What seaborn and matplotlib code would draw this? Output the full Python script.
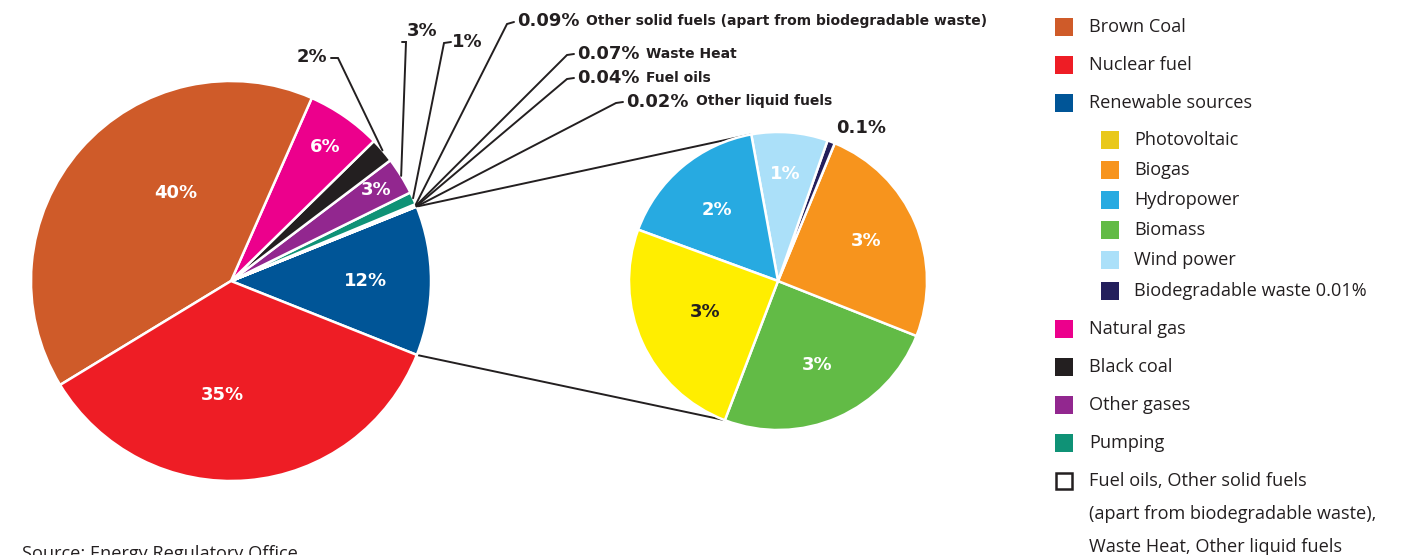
import matplotlib
matplotlib.use("Agg")
import matplotlib.pyplot as plt
from matplotlib.patches import Rectangle
import numpy as np
import seaborn as sns

# ---- data -------------------------------------------------------------
main_labels = ["Renewable sources", "Other liquid fuels", "Fuel oils", "Waste Heat",
               "Other solid fuels (apart from biodegradable waste)", "Pumping",
               "Other gases", "Black coal", "Natural gas", "Brown Coal", "Nuclear fuel"]
main_values = [12, 0.02, 0.04, 0.07, 0.09, 1, 3, 2, 6, 40, 35]

renew_labels = ["Biomass", "Biogas", "Biodegradable waste", "Wind power",
                "Hydropower", "Photovoltaic"]
renew_values = [3, 3, 0.1, 1, 2, 3]

legend_main_top = ["Brown Coal", "Nuclear fuel", "Renewable sources"]
legend_renew = ["Photovoltaic", "Biogas", "Hydropower", "Biomass", "Wind power",
                "Biodegradable waste 0.01%"]
legend_main_bottom = ["Natural gas", "Black coal", "Other gases", "Pumping"]
legend_other = ["Fuel oils, Other solid fuels", "(apart from biodegradable waste),",
                "Waste Heat, Other liquid fuels"]
source_note = "Source: Energy Regulatory Office"

# ---- styling ----------------------------------------------------------
sns.set_theme(style="white")
plt.rcParams["font.family"] = ["Open Sans", "DejaVu Sans"]
BOLD_FONT = ["DejaVu Sans"]

DARK = "#231F20"
colors = {
    "Brown Coal": "#CF5B29",
    "Nuclear fuel": "#EE1D25",
    "Renewable sources": "#005597",
    "Natural gas": "#EC008C",
    "Black coal": "#231F20",
    "Other gases": "#92278F",
    "Pumping": "#0F9276",
    "Other liquid fuels": "white",
    "Fuel oils": "white",
    "Waste Heat": "white",
    "Other solid fuels (apart from biodegradable waste)": "white",
    "Photovoltaic": "#FFEE00",
    "Biogas": "#F7941D",
    "Hydropower": "#27AAE1",
    "Biomass": "#62BB46",
    "Wind power": "#ABE0F9",
    "Biodegradable waste": "#231F5C",
}
legend_colors = dict(colors)
legend_colors["Photovoltaic"] = "#E9C81A"
legend_colors["Biodegradable waste 0.01%"] = "#231F5C"

W, H = 1417, 555
fig = plt.figure(figsize=(W / 100, H / 100), dpi=100)
ax = fig.add_axes([0, 0, 1, 1])


def Y(y):
    """Convert a top-down pixel row to the axes' bottom-up coordinate."""
    return H - y


main_center, main_r = (231, Y(281)), 200
sub_center, sub_r = (778, Y(281)), 149

wedges_main, _ = ax.pie(main_values, colors=[colors[l] for l in main_labels],
                        startangle=-21.7, counterclock=True, center=main_center,
                        radius=main_r, wedgeprops=dict(edgecolor="white", linewidth=1.8))
wedges_sub, _ = ax.pie(renew_values, colors=[colors[l] for l in renew_labels],
                       startangle=-110.9, counterclock=True, center=sub_center,
                       radius=sub_r, wedgeprops=dict(edgecolor="white", linewidth=1.8))
ax.set_xlim(0, W)
ax.set_ylim(0, H)
ax.set_aspect("equal")
ax.axis("off")

main_w = dict(zip(main_labels, wedges_main))
main_v = dict(zip(main_labels, main_values))
sub_w = dict(zip(renew_labels, wedges_sub))
sub_v = dict(zip(renew_labels, renew_values))


def edge_point(center, r, theta):
    t = np.deg2rad(theta)
    return center[0] + r * np.cos(t), center[1] + r * np.sin(t)


def pct(v):
    return f"{v:g}%"


def bold(x, y, s, color=DARK, size=13, **kw):
    return ax.text(x, y, s, color=color, fontsize=size, fontweight="bold",
                   family=BOLD_FONT, **kw)


# ---- connector lines between the renewable slice and its breakdown ----
ren = main_w["Renewable sources"]
p_top = edge_point(main_center, main_r, ren.theta2)
p_bot = edge_point(main_center, main_r, ren.theta1)
q_top = edge_point(sub_center, sub_r, sub_w["Hydropower"].theta1)
q_bot = edge_point(sub_center, sub_r, sub_w["Biomass"].theta1)
ax.plot([p_top[0], q_top[0]], [p_top[1], q_top[1]], color=DARK, lw=1.4, zorder=0)
ax.plot([p_bot[0], q_bot[0]], [p_bot[1], q_bot[1]], color=DARK, lw=1.4, zorder=0)

# ---- labels inside slices ----------------------------------------------
inner_main = {
    "Brown Coal": (176, 193),
    "Nuclear fuel": (222, 395),
    "Renewable sources": (366, 281),
    "Natural gas": (325, 147),
    "Other gases": (376, 190),
}
for name, (x, y) in inner_main.items():
    bold(x, Y(y), pct(main_v[name]), color="white", ha="center", va="center")

inner_sub = {
    "Hydropower": ((717, 210), "white"),
    "Wind power": ((785, 174), "white"),
    "Biogas": ((866, 241), "white"),
    "Biomass": ((817, 365), "white"),
    "Photovoltaic": ((705, 312), DARK),
}
for name, ((x, y), c) in inner_sub.items():
    bold(x, Y(y), pct(sub_v[name]), color=c, ha="center", va="center")

bold(861, Y(128), pct(sub_v["Biodegradable waste"]), ha="center", va="center")

# ---- outside labels with leader lines --------------------------------
# name: (elbow, tick end, text anchor, ha, show description)
leaders = {
    "Black coal": ((338, 58), (331, 58), (327, 57), "right", False),
    "Other gases": ((406, 42), (402, 42), (407, 31), "left", False),
    "Pumping": ((444, 43), (451, 42), (452, 42), "left", False),
    "Other solid fuels (apart from biodegradable waste)": ((507, 24), (514, 22), (517, 21), "left", True),
    "Waste Heat": ((567, 55), (574, 54), (577, 54), "left", True),
    "Fuel oils": ((567, 79), (574, 78), (577, 78), "left", True),
    "Other liquid fuels": ((616, 103), (623, 102), (626, 102), "left", True),
}
fig.canvas.draw()
renderer = fig.canvas.get_renderer()
for name, (elbow, tick, txt, ha, desc) in leaders.items():
    w = main_w[name]
    anchor = edge_point(main_center, main_r, (w.theta1 + w.theta2) / 2)
    ax.plot([anchor[0], elbow[0], tick[0]], [anchor[1], Y(elbow[1]), Y(tick[1])],
            color=DARK, lw=1.4, solid_joinstyle="miter", zorder=3)
    t = bold(txt[0], Y(txt[1]), pct(main_v[name]), ha=ha, va="center")
    if desc:
        bb = t.get_window_extent(renderer)
        x_after = ax.transData.inverted().transform((bb.x1, bb.y0))[0]
        bold(x_after + 7, Y(txt[1]) + 0.5, name, size=10, ha="left", va="center")

# ---- legend -------------------------------------------------------------
rows = []
rows += [(n, y, 0) for n, y in zip(legend_main_top, [27, 65, 103])]
rows += [(n, y, 1) for n, y in zip(legend_renew, [140, 170, 200, 230, 260, 291])]
rows += [(n, y, 0) for n, y in zip(legend_main_bottom, [329, 367, 405, 443])]
for name, y, level in rows:
    bx = 1055 if level == 0 else 1101
    tx = 1089 if level == 0 else 1134
    ax.add_patch(Rectangle((bx, Y(y) - 9), 18, 18, facecolor=legend_colors[name],
                           edgecolor="none"))
    ax.text(tx, Y(y), name, color=DARK, fontsize=13.1, ha="left", va="center")

ax.add_patch(Rectangle((1056, Y(481) - 8), 16, 16, facecolor="white",
                       edgecolor=DARK, linewidth=1.8))
for line, y in zip(legend_other, [481, 514, 547]):
    ax.text(1089, Y(y), line, color=DARK, fontsize=13.1, ha="left", va="center")

ax.text(22, Y(545), source_note, color=DARK, fontsize=13.1, ha="left", va="top")

fig.savefig("out.png", dpi=100, facecolor="white")
